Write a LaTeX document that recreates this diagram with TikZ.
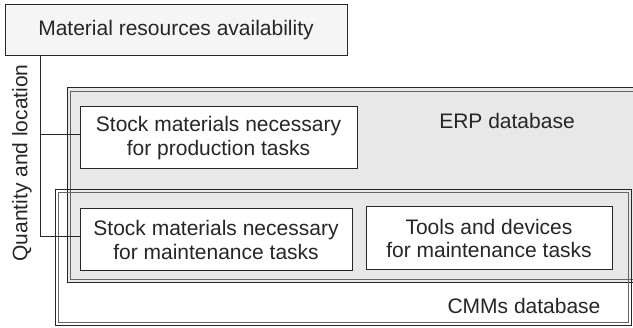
\documentclass[tikz,border=0pt]{standalone}
\usepackage{fontspec}
\setmainfont{Liberation Sans}
\begin{document}
\begin{tikzpicture}[x=1pt,y=-1pt,
  txt/.style={text=black!85,font=\fontsize{21}{23.5}\selectfont},
  boxnode/.style={txt,draw=black!85,line width=1pt,fill=white,align=center,inner sep=0pt},
  outerline/.style={draw=black!85,line width=1pt},
  innerline/.style={draw=black!60,line width=1pt},
  link/.style={draw=black!85,line width=1pt}]
\useasboundingbox (0,0) rectangle (633,328);
\clip (0,0) rectangle (633,328);
% CMMs database container (white)
\fill[white] (55,190) rectangle (631,326);
% ERP database container (grey)
\fill[black!9] (67,88) rectangle (640,283);
% ERP lines
\draw[outerline] (640,88) -- (67,88) -- (67,283) -- (640,283);
\draw[innerline] (640,92) -- (70,92) -- (70,280) -- (640,280);
% CMMs lines
\draw[outerline] (55,190) rectangle (631,326);
\draw[innerline] (58,193) rectangle (628,323);
% Top box
\node[boxnode,fill=black!4,minimum width=342pt,minimum height=51pt] (top) at (176,30.5) {Material resources availability};
% Inner boxes
\node[boxnode,minimum width=277pt,minimum height=62pt] (prod) at (218.5,138) {Stock materials necessary\\for production tasks};
\node[boxnode,minimum width=272pt,minimum height=62pt] (maint) at (216,240) {Stock materials necessary\\for maintenance tasks};
\node[boxnode,minimum width=246pt,minimum height=63pt] (tools) at (489,238.5) {Tools and devices\\for maintenance tasks};
% Labels
\node[txt] (erp) at (507,121) {ERP database};
\node[txt] (cmms) at (524,306) {CMMs database};
\node[txt,rotate=90] (ql) at (22,163) {Quantity and location};
% Connectors
\coordinate (qtop) at ([xshift=36pt]top.south west);
\draw[link] (qtop) |- ([yshift=3pt]prod.west);
\draw[link] (qtop) |- ([yshift=3pt]maint.west);
\end{tikzpicture}
\end{document}
